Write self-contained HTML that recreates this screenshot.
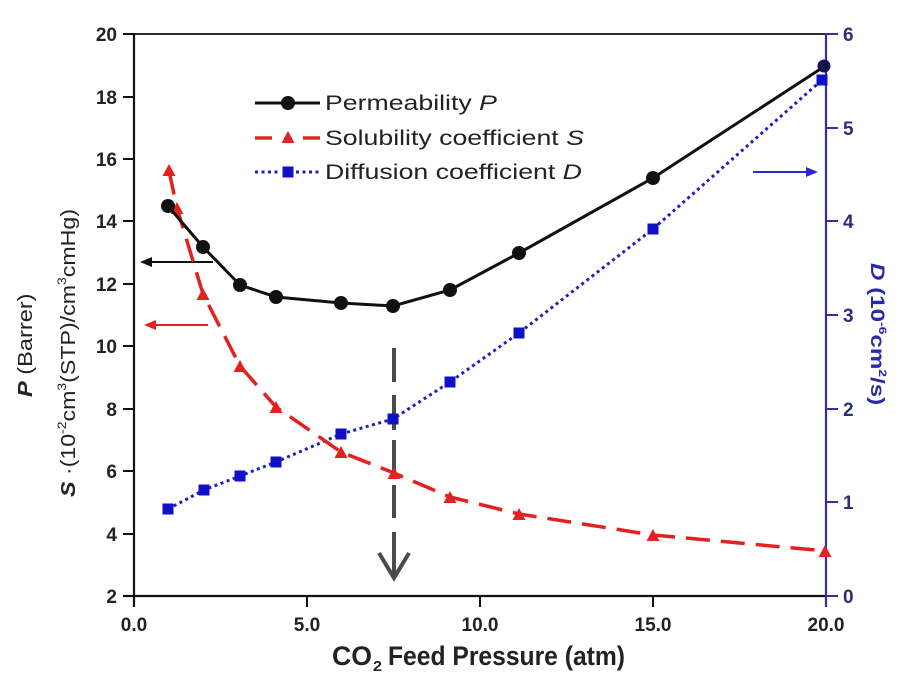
<!DOCTYPE html>
<html>
<head>
<meta charset="utf-8">
<style>
html,body{margin:0;padding:0;background:#fff;}
svg{display:block;}
text{font-family:"Liberation Sans",Arial,sans-serif;}
</style>
</head>
<body>
<svg width="900" height="676" viewBox="0 0 900 676" xmlns="http://www.w3.org/2000/svg">
<rect width="900" height="676" fill="#fff"/>

<!-- frame -->
<line x1="134" y1="34" x2="826" y2="34" stroke="#111" stroke-width="1.8"/>
<line x1="134" y1="33" x2="134" y2="607" stroke="#111" stroke-width="2.2"/>
<line x1="123" y1="596" x2="826" y2="596" stroke="#111" stroke-width="2.2"/>
<line x1="826" y1="33" x2="826" y2="607" stroke="#3030a8" stroke-width="2.2"/>

<!-- left ticks -->
<g stroke="#111" stroke-width="2">
<line x1="123" y1="34" x2="134" y2="34"/>
<line x1="123" y1="97" x2="134" y2="97"/>
<line x1="123" y1="159" x2="134" y2="159"/>
<line x1="123" y1="221" x2="134" y2="221"/>
<line x1="123" y1="284" x2="134" y2="284"/>
<line x1="123" y1="346" x2="134" y2="346"/>
<line x1="123" y1="409" x2="134" y2="409"/>
<line x1="123" y1="471" x2="134" y2="471"/>
<line x1="123" y1="534" x2="134" y2="534"/>
<line x1="307" y1="596" x2="307" y2="607"/>
<line x1="480" y1="596" x2="480" y2="607"/>
<line x1="653" y1="596" x2="653" y2="607"/>
</g>
<!-- right ticks -->
<g stroke="#3030a8" stroke-width="2">
<line x1="826" y1="34" x2="838" y2="34"/>
<line x1="826" y1="128" x2="838" y2="128"/>
<line x1="826" y1="221" x2="838" y2="221"/>
<line x1="826" y1="315" x2="838" y2="315"/>
<line x1="826" y1="409" x2="838" y2="409"/>
<line x1="826" y1="502" x2="838" y2="502"/>
<line x1="826" y1="596" x2="838" y2="596"/>
</g>

<!-- left tick labels -->
<g font-size="19" font-weight="bold" fill="#222" text-anchor="end">
<text x="117" y="41">20</text>
<text x="117" y="104">18</text>
<text x="117" y="166">16</text>
<text x="117" y="228">14</text>
<text x="117" y="291">12</text>
<text x="117" y="353">10</text>
<text x="117" y="416">8</text>
<text x="117" y="478">6</text>
<text x="117" y="541">4</text>
<text x="117" y="603">2</text>
</g>
<!-- right tick labels -->
<g font-size="19" font-weight="bold" fill="#2e2e78">
<text x="843" y="41">6</text>
<text x="843" y="135">5</text>
<text x="843" y="228">4</text>
<text x="843" y="322">3</text>
<text x="843" y="416">2</text>
<text x="843" y="509">1</text>
<text x="843" y="603">0</text>
</g>
<!-- bottom tick labels -->
<g font-size="19" font-weight="bold" fill="#222" text-anchor="middle">
<text x="134" y="631">0.0</text>
<text x="307" y="631">5.0</text>
<text x="480" y="631">10.0</text>
<text x="653" y="631">15.0</text>
<text x="826" y="631">20.0</text>
</g>

<!-- x axis title -->
<g font-weight="bold" fill="#222">
<text x="332" y="665" font-size="27" textLength="40" lengthAdjust="spacingAndGlyphs">CO</text>
<text x="373" y="671" font-size="15" textLength="9" lengthAdjust="spacingAndGlyphs">2</text>
<text x="388" y="665" font-size="27" textLength="237" lengthAdjust="spacingAndGlyphs">Feed Pressure (atm)</text>
</g>

<!-- left axis titles -->
<g transform="translate(32,397) rotate(-90) scale(1.18,1)" fill="#222">
<text x="0" y="0" font-size="20"><tspan font-weight="bold" font-style="italic">P</tspan> (Barrer)</text>
</g>
<g transform="translate(75,497) rotate(-90) scale(1.16,1)" fill="#222">
<text x="0" y="0" font-size="20"><tspan font-weight="bold" font-style="italic">S</tspan> ·(10<tspan font-size="12" dy="-9">-2</tspan><tspan dy="9">cm</tspan><tspan font-size="12" dy="-9">3</tspan><tspan dy="9">(STP)/cm</tspan><tspan font-size="12" dy="-9">3</tspan><tspan dy="9">cmHg)</tspan></text>
</g>
<!-- right axis title -->
<g transform="translate(871,263) rotate(90) scale(1.27,1)" fill="#2a2aa8" font-weight="bold">
<text x="0" y="0" font-size="19"><tspan font-style="italic">D</tspan> (10<tspan font-size="11" dy="-8">-6</tspan><tspan dy="8">cm</tspan><tspan font-size="11" dy="-8">2</tspan><tspan dy="8">/s)</tspan></text>
</g>

<!-- annotation arrows -->
<g stroke="#111" stroke-width="2" fill="none">
<line x1="213" y1="262" x2="144" y2="262"/>
</g>
<polygon points="140,262 152,257 152,267" fill="#111"/>
<line x1="208" y1="325" x2="148" y2="325" stroke="#e52020" stroke-width="2"/>
<polygon points="144,325 156,320 156,330" fill="#e52020"/>
<line x1="753" y1="172" x2="812" y2="172" stroke="#2a2ad0" stroke-width="2"/>
<polygon points="818,172 806,167 806,177" fill="#2a2ad0"/>

<!-- gray dashed vertical arrow -->
<g stroke="#4a4a4a" stroke-width="4" fill="none">
<line x1="394" y1="348" x2="394" y2="382"/>
<line x1="394" y1="395" x2="394" y2="430"/>
<line x1="394" y1="440" x2="394" y2="477"/>
<line x1="394" y1="485" x2="394" y2="518"/>
<line x1="394" y1="532" x2="394" y2="576"/>
<polyline points="379,553 394,578 409,553" stroke-linejoin="miter"/>
</g>

<!-- Diffusion D (blue dotted) -->
<polyline points="168,509 204,490 240,476 276,462 341,434 393,419 450,382 519,333 653,229 822,80"
 fill="none" stroke="#2020c0" stroke-width="3" stroke-dasharray="3 3.5"/>
<g fill="#1010c8">
<rect x="162.5" y="503.5" width="11" height="11"/>
<rect x="198.5" y="484.5" width="11" height="11"/>
<rect x="234.5" y="470.5" width="11" height="11"/>
<rect x="270.5" y="456.5" width="11" height="11"/>
<rect x="335.5" y="428.5" width="11" height="11"/>
<rect x="387.5" y="413.5" width="11" height="11"/>
<rect x="444.5" y="376.5" width="11" height="11"/>
<rect x="513.5" y="327.5" width="11" height="11"/>
<rect x="647.5" y="223.5" width="11" height="11"/>
<rect x="816.5" y="74.5" width="11" height="11"/>
</g>

<!-- Solubility S (red dashed) -->
<polyline points="169,171 177,208 203,294 240,366 276,407 341,452 394,473 450,497 519,514 653,535 826,551"
 fill="none" stroke="#e52020" stroke-width="3.5" stroke-dasharray="24 11"/>
<g fill="#e52020">
<polygon points="169,164 175.5,176 162.5,176"/>
<polygon points="177,202 183.5,214 170.5,214"/>
<polygon points="203,288 209.5,300 196.5,300"/>
<polygon points="240,360 246.5,372 233.5,372"/>
<polygon points="276,401 282.5,413 269.5,413"/>
<polygon points="341,446 347.5,458 334.5,458"/>
<polygon points="394,467 400.5,479 387.5,479"/>
<polygon points="450,491 456.5,503 443.5,503"/>
<polygon points="519,508 525.5,520 512.5,520"/>
<polygon points="653,529 659.5,541 646.5,541"/>
<polygon points="825,545 831.5,557 818.5,557"/>
</g>

<!-- Permeability P (black solid) -->
<polyline points="168,206 203,247 240,285 276,297 341,303 393,306 450,290 519,253 653,178 825,66"
 fill="none" stroke="#111" stroke-width="3"/>
<g fill="#111">
<circle cx="168" cy="206" r="7"/>
<circle cx="203" cy="247" r="7"/>
<circle cx="240" cy="285" r="7"/>
<circle cx="276" cy="297" r="7"/>
<circle cx="341" cy="303" r="7"/>
<circle cx="393" cy="306" r="7"/>
<circle cx="450" cy="290" r="7"/>
<circle cx="519" cy="253" r="7"/>
<circle cx="653" cy="178" r="7"/>
<circle cx="824" cy="66" r="6.5" fill="#121250"/>
</g>

<!-- legend -->
<line x1="255" y1="103" x2="320" y2="103" stroke="#111" stroke-width="3"/>
<circle cx="288" cy="103" r="7" fill="#111"/>
<line x1="255" y1="138" x2="272" y2="138" stroke="#e52020" stroke-width="3.5"/>
<line x1="303" y1="138" x2="320" y2="138" stroke="#e52020" stroke-width="3.5"/>
<polygon points="288,131 294.5,143 281.5,143" fill="#e52020"/>
<line x1="255" y1="172" x2="281" y2="172" stroke="#2020c0" stroke-width="3" stroke-dasharray="3 3.5"/>
<line x1="296" y1="172" x2="320" y2="172" stroke="#2020c0" stroke-width="3" stroke-dasharray="3 3.5"/>
<rect x="282.5" y="166.5" width="11" height="11" fill="#1010c8"/>

<g fill="#222" font-size="21">
<text transform="translate(325,110) scale(1.27,1)">Permeability <tspan font-style="italic">P</tspan></text>
<text transform="translate(325,145) scale(1.27,1)">Solubility coefficient <tspan font-style="italic">S</tspan></text>
<text transform="translate(325,179) scale(1.27,1)">Diffusion coefficient <tspan font-style="italic">D</tspan></text>
</g>
</svg>
</body>
</html>
